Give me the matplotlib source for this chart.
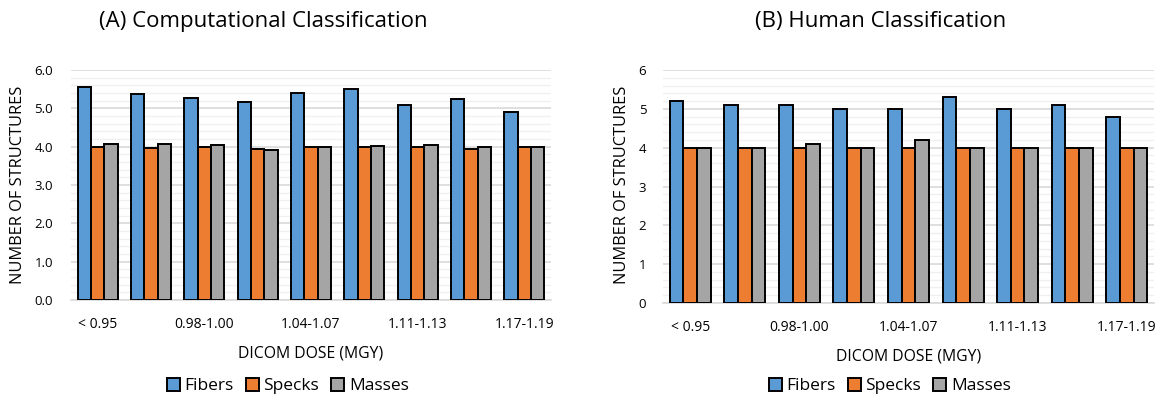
import numpy as np
from matplotlib import pyplot as plt
from matplotlib.ticker import MultipleLocator

plt.rcParams['font.family'] = ['Open Sans', 'DejaVu Sans']

doses = ['< 0.95', '0.95-0.97', '0.98-1.00', '1.01-1.03', '1.04-1.07',
         '1.08-1.10', '1.11-1.13', '1.14-1.16', '1.17-1.19']
series = ['Fibers', 'Specks', 'Masses']
colors = ['#5B9BD5', '#ED7D31', '#A5A5A5']

comp_fibers = [5.55, 5.37, 5.26, 5.17, 5.39, 5.51, 5.09, 5.24, 4.90]
comp_specks = [3.98, 3.97, 3.99, 3.94, 3.99, 3.99, 4.00, 3.93, 4.00]
comp_masses = [4.06, 4.08, 4.05, 3.92, 4.00, 4.03, 4.04, 4.00, 4.00]

human_fibers = [5.2, 5.1, 5.1, 5.0, 5.0, 5.3, 5.0, 5.1, 4.8]
human_specks = [4, 4, 4, 4, 4, 4, 4, 4, 4]
human_masses = [4, 4, 4.1, 4, 4.2, 4, 4, 4, 4]

W, H = 1158, 396


def px(x0, y0, x1, y1):
    # pixel box (top-left origin) -> figure fraction rect
    return [x0 / W, (H - y1) / H, (x1 - x0) / W, (y1 - y0) / H]


def draw(figure, axis, values, title, fmt, title_x, legend_x, ylab_x, ypad):
    x = np.arange(len(doses))
    width = 0.25
    for i, (vals, color) in enumerate(zip(values, colors)):
        axis.bar(x + (i - 1) * width, vals, width, color=color, edgecolor='black',
                 linewidth=1.4, label=series[i], zorder=3)
    axis.set_xlim(-0.5, len(doses) - 0.5)
    axis.set_ylim(0, 6)
    axis.yaxis.set_major_locator(MultipleLocator(1))
    axis.yaxis.set_minor_locator(MultipleLocator(0.2))
    axis.yaxis.set_major_formatter(fmt)
    axis.grid(axis='y', which='major', color='#D9D9D9', linewidth=1.2, zorder=0)
    axis.grid(axis='y', which='minor', color='#F0F0F0', linewidth=1.0, zorder=0)
    axis.set_xticks(x[::2])
    axis.set_xticklabels(doses[::2], fontsize=10)
    axis.tick_params(axis='both', which='both', length=0)
    axis.tick_params(axis='x', pad=12)
    axis.tick_params(axis='y', labelsize=9.5, pad=ypad)
    for side in ('top', 'right', 'left'):
        axis.spines[side].set_visible(False)
    axis.spines['bottom'].set_color('#D9D9D9')
    axis.spines['bottom'].set_linewidth(1.2)
    axis.set_xlabel('DICOM DOSE (MGY)', fontsize=11.3, labelpad=10)
    figure.text(ylab_x / W, 1 - 185 / H, 'NUMBER OF STRUCTURES', rotation=90,
                ha='center', va='center', fontsize=11.8)
    figure.text(title_x / W, 1 - 21 / H, title, ha='center', va='center', fontsize=16)
    handles, labels = axis.get_legend_handles_labels()
    figure.legend(handles, labels, loc='center', bbox_to_anchor=(legend_x / W, 1 - 386 / H),
                  ncol=3, frameon=False, fontsize=12.5, handlelength=0.75, handleheight=0.75,
                  handletextpad=0.25, columnspacing=0.7, borderpad=0)


def main():
    figure = plt.figure(figsize=(W / 100, H / 100), dpi=100)
    ax1 = figure.add_axes(px(71, 70, 551, 300))
    ax2 = figure.add_axes(px(663, 70, 1154, 303))
    draw(figure, ax1, [comp_fibers, comp_specks, comp_masses],
         '(A) Computational Classification', '{x:.1f}', 263, 288, 18, 13)
    draw(figure, ax2, [human_fibers, human_specks, human_masses],
         '(B) Human Classification', '{x:.0f}', 881, 890, 622, 12)
    figure.savefig('out.png', dpi=100)


if __name__ == '__main__':
    main()
